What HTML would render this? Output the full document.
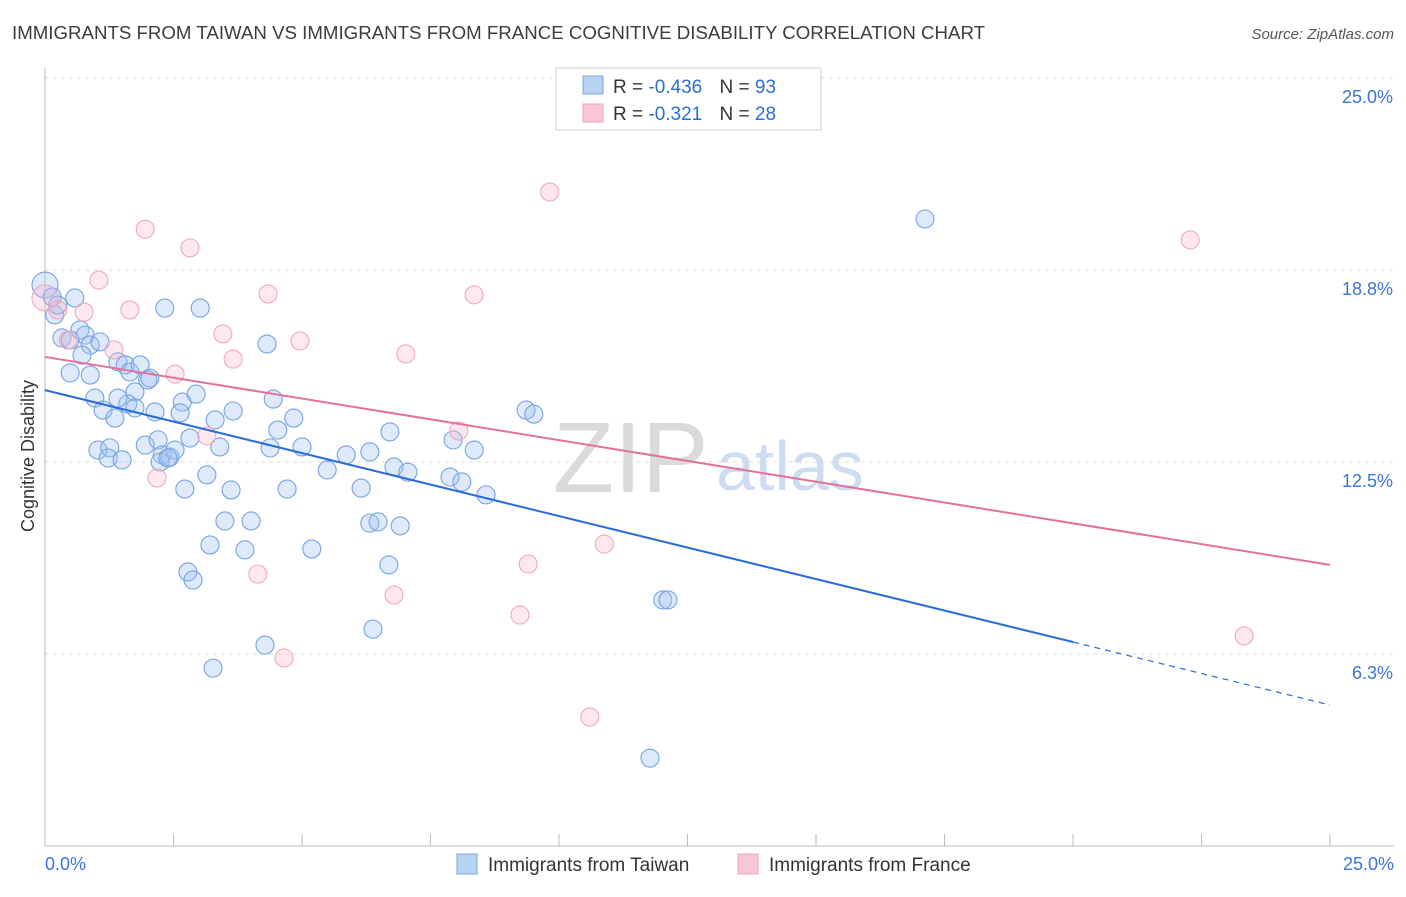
<!DOCTYPE html>
<html><head><meta charset="utf-8"><style>
body{margin:0;background:#fff;font-family:"Liberation Sans",sans-serif;}
svg text{font-family:"Liberation Sans",sans-serif;}
</style></head><body>
<svg id="c" width="1406" height="892">
<text x="12" y="39" font-size="18" fill="#3c3c3c" textLength="973" lengthAdjust="spacingAndGlyphs">IMMIGRANTS FROM TAIWAN VS IMMIGRANTS FROM FRANCE COGNITIVE DISABILITY CORRELATION CHART</text>
<text x="1394" y="39" font-size="15" fill="#555" font-style="italic" text-anchor="end">Source: ZipAtlas.com</text>
<text x="34" y="456" font-size="18" fill="#333" text-anchor="middle" transform="rotate(-90 34 456)">Cognitive Disability</text>
<text x="553" y="492" font-size="100" fill="#dadada" font-family="Liberation Serif">ZIP</text>
<text x="716" y="490" font-size="70" fill="#cddcf2">atlas</text>
<g id="grid"></g><g id="marks"></g><g id="lines"></g>
<g>
<rect x="556" y="68" width="265" height="62" fill="#fff" stroke="#ccc"/>
<rect x="583" y="76" width="20" height="18" fill="#b8d2f4" stroke="#7ba6e0"/>
<rect x="583" y="104" width="20" height="18" fill="#f9c6d6" stroke="#eea4bc"/>
<text x="613" y="93" font-size="19" fill="#333">R = <tspan fill="#2a6dd8">-0.436</tspan>  <tspan dx="12">N = </tspan><tspan fill="#2a6dd8">93</tspan></text>
<text x="613" y="120" font-size="19" fill="#333">R =  <tspan fill="#2a6dd8">-0.321</tspan>  <tspan dx="12">N = </tspan><tspan fill="#2a6dd8">28</tspan></text>
</g>
<g>
<rect x="457" y="854" width="20" height="20" fill="#b8d2f4" stroke="#7ba6e0"/>
<text x="488" y="871" font-size="19" fill="#333">Immigrants from Taiwan</text>
<rect x="738" y="854" width="20" height="20" fill="#f9c6d6" stroke="#eea4bc"/>
<text x="769" y="871" font-size="19" fill="#333">Immigrants from France</text>
</g>
</svg>
<script>
const yTicks=[25,18.75,12.5,6.25];
const yTickLabels=["25.0%","18.8%","12.5%","6.3%"];
const taiwanX=[0,0.14,0.19,0.25,0.58,0.33,0.49,0.68,0.78,0.88,1.07,0.72,0.49,0.88,0.97,1.13,1.36,1.42,1.56,1.65,1.85,1.75,1.61,1.75,1.42,2.0,2.04,2.14,2.33,3.02,4.32,1.03,1.26,1.23,1.5,1.95,2.2,2.28,2.24,2.43,2.53,2.39,2.67,2.94,2.63,2.82,3.31,3.66,3.4,3.15,2.72,3.62,3.5,4.01,3.21,3.89,2.78,2.88,3.27,4.28,4.44,4.53,4.38,4.71,4.84,5.0,5.19,5.49,5.86,6.15,6.32,6.32,6.48,6.71,6.79,7.06,6.69,6.91,6.38,7.94,7.88,8.11,8.35,8.58,9.36,9.51,12.02,12.12,11.77,17.12];
const taiwanY=[18.26,17.87,17.29,17.61,17.84,16.54,16.47,16.8,16.63,16.31,16.41,15.98,15.4,15.33,14.58,14.19,13.93,15.76,15.66,15.43,15.66,14.78,14.39,14.26,14.58,15.17,15.23,14.13,17.51,17.51,16.34,12.89,12.96,12.63,12.57,13.05,13.22,12.73,12.5,12.66,12.89,12.63,14.45,14.71,14.1,13.28,13.87,14.16,12.99,12.08,11.62,11.59,10.58,10.58,9.8,9.64,8.92,8.66,5.79,6.54,14.55,13.54,12.96,11.62,13.93,12.99,9.67,12.24,12.73,11.65,12.83,10.51,10.55,13.48,12.34,12.17,9.15,10.42,7.06,13.22,12.01,11.85,12.89,11.43,14.19,14.06,8.01,8.01,2.86,20.41];
const franceX=[0,0.25,0.45,0.76,1.05,1.34,1.65,1.95,2.82,2.18,2.53,3.15,3.46,3.66,4.14,4.34,4.65,4.96,7.02,8.05,8.35,9.4,9.24,9.82,10.88,6.79,10.6,22.28,23.33];
const franceY=[17.84,17.45,16.47,17.38,18.42,16.15,17.45,20.08,19.47,11.98,15.36,13.35,16.67,15.85,8.85,17.97,6.12,16.44,16.02,13.51,17.94,9.18,7.52,21.29,9.83,8.17,4.2,19.73,6.84];
const taiwanTrend=[14.84,4.59], franceTrend=[15.92,9.15];
const NS="http://www.w3.org/2000/svg";
function sx(v){return 45+v*51.4;}
function sy(v){return 846-v*30.72;}
function mk(t,a,p){const e=document.createElementNS(NS,t);for(const k in a)e.setAttribute(k,a[k]);p.appendChild(e);return e;}
const grid=document.getElementById('grid'),marks=document.getElementById('marks'),lines=document.getElementById('lines');
yTicks.forEach((t,i)=>{
 const g=mk('line',{x1:45,x2:1394,y1:sy(t),y2:sy(t),stroke:'#ddd','stroke-dasharray':'4,4'},grid);
 
 
 const l=mk('text',{x:1393,y:sy(t)+25,'font-size':18,fill:'#3a74d8','text-anchor':'end'},grid);
 l.textContent=yTickLabels[i];
 
 
});
const ax=mk('line',{x1:45,x2:45,y1:68,y2:846,stroke:'#bbb'},grid);


const bx=mk('line',{x1:45,x2:1394,y1:846,y2:846,stroke:'#bbb'},grid);


for(let i=0;i<=10;i++){const t=mk('line',{x1:sx(i*2.5),x2:sx(i*2.5),y1:834,y2:846,stroke:'#bbb'},grid);
 
 }
const xl=mk('text',{x:45,y:870,'font-size':18,fill:'#3a74d8'},grid);xl.textContent='0.0%';


const xr=mk('text',{x:1394,y:870,'font-size':18,fill:'#3a74d8','text-anchor':'end'},grid);xr.textContent='25.0%';


function pts(X,Y,fill,stroke,name){X.forEach((x,i)=>{
 const c=mk('circle',{cx:sx(x),cy:sy(Y[i]),r:i===0?13:9,fill:fill,stroke:stroke,'stroke-width':1.1},marks);
 
 });}
pts(taiwanX,taiwanY,'rgba(160,196,242,0.35)','#74a2e2','taiwan-point');
pts(franceX,franceY,'rgba(248,180,202,0.3)','#f0a8be','france-point');
function yAt(tr,x){return tr[0]+(tr[1]-tr[0])*x/25;}
const b1=mk('line',{x1:sx(0),y1:sy(yAt(taiwanTrend,0)),x2:sx(20),y2:sy(yAt(taiwanTrend,20)),stroke:'#2a6dd8','stroke-width':2},lines);


const b2=mk('line',{x1:sx(20),y1:sy(yAt(taiwanTrend,20)),x2:sx(25),y2:sy(yAt(taiwanTrend,25)),stroke:'#2a6dd8','stroke-width':1.2,'stroke-dasharray':'6,5'},lines);


const p1=mk('line',{x1:sx(0),y1:sy(franceTrend[0]),x2:sx(25),y2:sy(franceTrend[1]),stroke:'#e5709a','stroke-width':2},lines);


</script>
</body></html>
